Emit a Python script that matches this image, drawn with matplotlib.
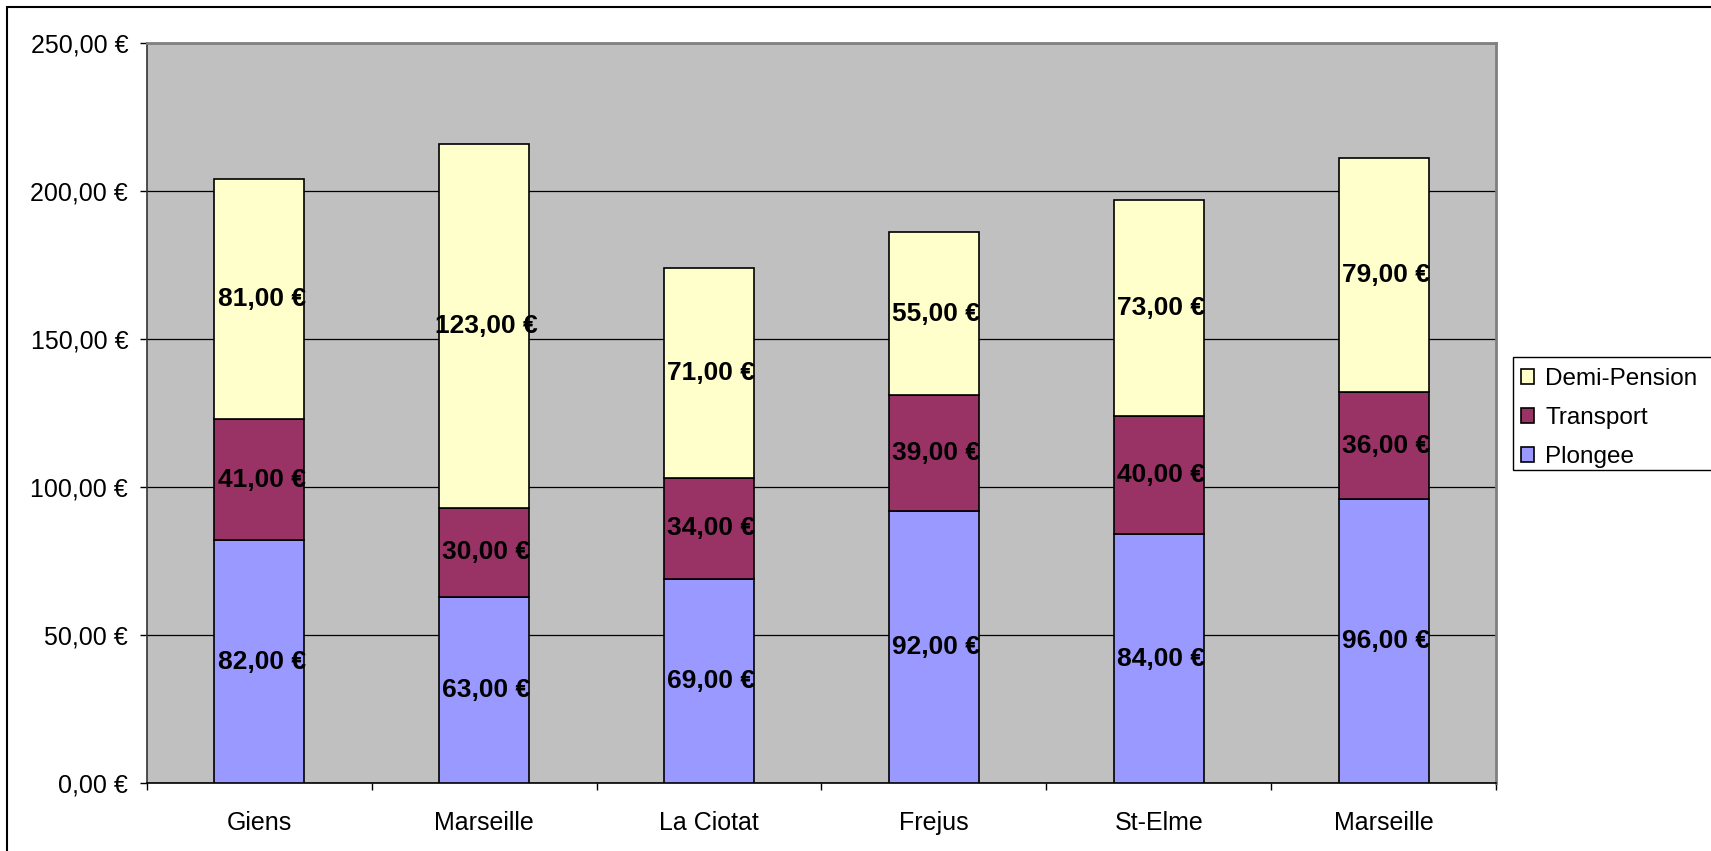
import numpy as np
import matplotlib
matplotlib.use('Agg')
from matplotlib import pyplot as plt
from matplotlib.patches import Rectangle
from matplotlib.ticker import FuncFormatter, FixedLocator

plt.rcParams['font.family'] = ['Liberation Sans', 'DejaVu Sans']

# données
sites = ['Giens', 'Marseille', 'La Ciotat', 'Frejus', 'St-Elme', 'Marseille']
plongee = [82, 63, 69, 92, 84, 96]
transport = [41, 30, 34, 39, 40, 36]
demi_pension = [81, 123, 71, 55, 73, 79]

series = [('Plongee', plongee, '#9999FF'),
          ('Transport', transport, '#993366'),
          ('Demi-Pension', demi_pension, '#FFFFCC')]

def euro(v, pos=None):
    return f'{v:.2f} €'.replace('.', ',')

W, H = 1711, 851
fig = plt.figure(figsize=(W / 100, H / 100), dpi=100)
ax = fig.add_axes([147/W, 1 - 783/H, (1496-147)/W, (783-43)/H])
ax.set_facecolor('#C0C0C0')

x = np.arange(len(sites))
bottom = np.zeros(len(sites))
handles = []
for name, vals, col in series:
    vals = np.array(vals, dtype=float)
    b = ax.bar(x, vals, 0.4, bottom=bottom, color=col, edgecolor='black', linewidth=1.2, label=name, zorder=3)
    handles.append(b)
    for xi, bi, vi in zip(x, bottom, vals):
        ax.text(xi + 0.01, bi + vi / 2, euro(vi), ha='center', va='center',
                fontsize=19, fontweight='bold', zorder=4)
    bottom += vals

ax.set_ylim(0, 250)
ax.set_xlim(-0.5, len(sites) - 0.5)
ax.set_yticks(np.arange(0, 251, 50))
ax.yaxis.set_major_formatter(FuncFormatter(euro))
ax.yaxis.grid(True, color='black', linewidth=0.9, zorder=1)
ax.set_axisbelow(True)

ax.xaxis.set_major_locator(FixedLocator(np.arange(-0.5, len(sites), 1.0)))
ax.xaxis.set_minor_locator(FixedLocator(x))
ax.set_xticklabels([], minor=False)
ax.set_xticklabels(sites, minor=True)
ax.tick_params(axis='x', which='major', length=5, width=1, direction='out')
ax.tick_params(axis='x', which='minor', length=0, pad=20, labelsize=18)
ax.tick_params(axis='y', length=5, width=1, direction='out', pad=8.5, labelsize=18)

for s in ['top', 'right']:
    ax.spines[s].set_color('#808080')
    ax.spines[s].set_linewidth(2)
ax.spines['left'].set_color('#333333')
ax.spines['bottom'].set_color('black')
for s in ['left', 'bottom']:
    ax.spines[s].set_linewidth(1.2)

# légende (le cadre dépasse le bord droit de l'image)
leg = fig.legend(handles[::-1], [s[0] for s in series][::-1], loc='center left',
                 bbox_to_anchor=(1521/W, 1 - 418/H), fontsize=17.5, frameon=False,
                 handlelength=0.55, handleheight=0.55, handletextpad=0.45,
                 labelspacing=0.7, borderpad=0, borderaxespad=0)
fig.add_artist(Rectangle((1513/W, 1 - 470/H), 0.2, (470-357)/H, transform=fig.transFigure,
                         facecolor='white', edgecolor='black', linewidth=1, zorder=0))

fig.add_artist(Rectangle((7/W, -0.1), 2, 1.1 - 7/H, transform=fig.transFigure,
                         fill=False, edgecolor='black', linewidth=1.5))

fig.savefig('out.png', dpi=100)
